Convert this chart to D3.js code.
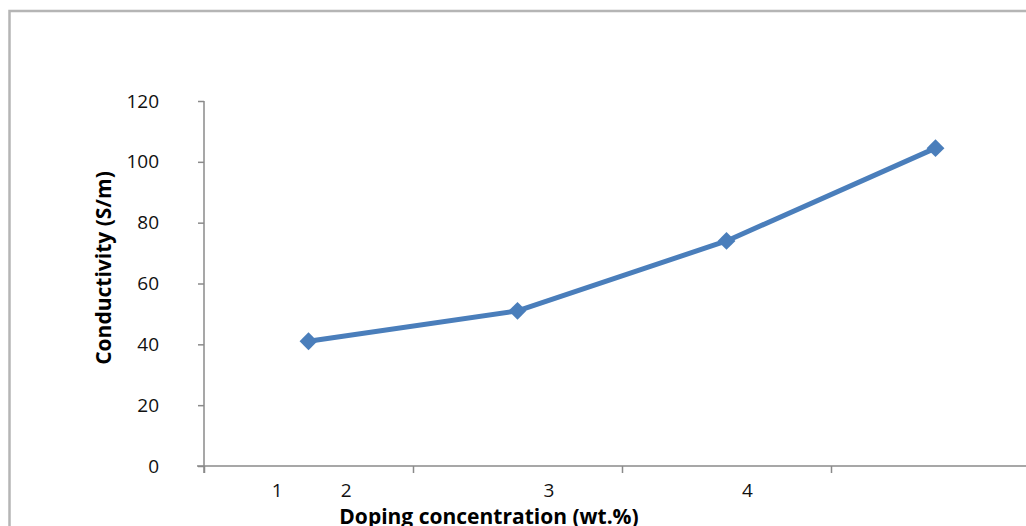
<!DOCTYPE html>
<html><head><meta charset="utf-8">
<script src="https://cdn.jsdelivr.net/npm/d3@7"></script>
<style>body{margin:0;background:#fff;overflow:hidden}svg{display:block}</style>
</head><body>
<svg id="c" width="1026" height="526"></svg>
<script>
const categories = ["c1", "c2", "c3", "c4"];
const conductivity = [41, 51, 74, 104.5];
const xTickLabels = ["1", "2", "3", "4"];
const xTickLabelPos = [0.35, 0.68, 1.65, 2.6];
const yTicks = [0, 20, 40, 60, 80, 100, 120];

(function () {
const svg = d3.select("#c");
const W = 1026;
const plotLeft = 204, plotBottom = 466, plotTop = 101;
const x = d3.scaleLinear().domain([0, categories.length]).range([plotLeft, plotLeft + 209 * categories.length]);
const y = d3.scaleLinear().domain([0, 120]).range([plotBottom, plotTop]);
const font = "'Open Sans', sans-serif";

// outer chart border
svg.append("rect").attr("x", 9.5).attr("y", 11).attr("width", 1100).attr("height", 600)
  .attr("fill", "none").attr("stroke", "#b5b5b5").attr("stroke-width", 2.5);

// y axis
const yAxis = d3.axisLeft(y).tickValues(yTicks).tickSize(6).tickPadding(39).tickSizeOuter(0);
const gy = svg.append("g").attr("transform", `translate(${plotLeft},0)`).call(yAxis);
gy.select(".domain").remove();
gy.append("line").attr("x1", 0).attr("x2", 0).attr("y1", plotTop).attr("y2", plotBottom + 7)
  .attr("stroke", "#8a8a8a").attr("stroke-width", 1.5);
gy.selectAll(".tick line").attr("stroke", "#8a8a8a").attr("stroke-width", 1.5);
gy.selectAll(".tick text").attr("font-family", font).attr("font-size", 19).attr("fill", "#111");

// x axis
const xAxis = d3.axisBottom(x).tickValues(d3.range(0, categories.length + 1)).tickSize(7).tickFormat("");
const gx = svg.append("g").attr("transform", `translate(0,${plotBottom})`).call(xAxis);
gx.select(".domain").remove();
gx.append("line").attr("x1", plotLeft - 7).attr("x2", W).attr("y1", 0).attr("y2", 0)
  .attr("stroke", "#8a8a8a").attr("stroke-width", 1.5);
gx.selectAll(".tick line").attr("stroke", "#8a8a8a").attr("stroke-width", 1.5);

svg.append("g").selectAll("text").data(xTickLabels).join("text")
  .attr("x", (d, i) => x(xTickLabelPos[i])).attr("y", 497)
  .attr("text-anchor", "middle").attr("font-family", font).attr("font-size", 19).attr("fill", "#111")
  .text(d => d);

// line
const line = d3.line().x((d, i) => x(i + 0.5)).y(d => y(d));
svg.append("path").datum(conductivity).attr("d", line)
  .attr("fill", "none").attr("stroke", "#4a7ebb").attr("stroke-width", 5).attr("stroke-linejoin", "round");
svg.append("g").selectAll("path").data(conductivity).join("path")
  .attr("d", d3.symbol().type(d3.symbolSquare).size(160))
  .attr("transform", (d, i) => `translate(${x(i + 0.5)},${y(d)}) rotate(45)`)
  .attr("fill", "#4a7ebb");

// axis titles
svg.append("text").attr("transform", "translate(111,268) rotate(-90)")
  .attr("text-anchor", "middle").attr("font-family", font).attr("font-weight", "bold")
  .attr("font-size", 21).attr("fill", "#000").text("Conductivity (S/m)");
svg.append("text").attr("x", 489).attr("y", 524)
  .attr("text-anchor", "middle").attr("font-family", font).attr("font-weight", "bold")
  .attr("font-size", 21).attr("fill", "#000").text("Doping concentration (wt.%)");
})();
</script>
</body></html>
